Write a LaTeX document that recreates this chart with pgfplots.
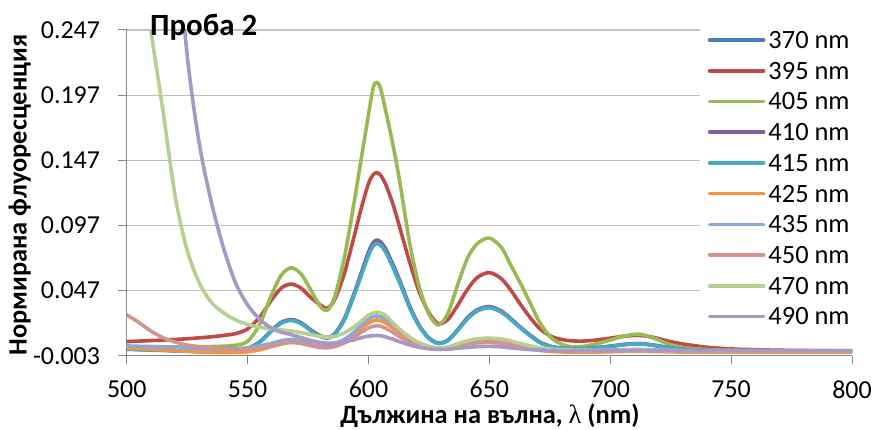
\documentclass[border=0pt]{standalone}
\usepackage{pgfplots}
\usepackage{pgfplotstable}
\pgfplotsset{compat=1.18}
\usepackage{fontspec}
\setmainfont{Carlito}
\newfontfamily\lamfont{Liberation Serif}

\definecolor{axisgray}{HTML}{868686}
\definecolor{gridgray}{HTML}{C0C0C0}
\definecolor{cA}{HTML}{4A7EBB}
\definecolor{cB}{HTML}{BE4B48}
\definecolor{cC}{HTML}{98B954}
\definecolor{cD}{HTML}{7D60A0}
\definecolor{cE}{HTML}{46AAC5}
\definecolor{cF}{HTML}{F69240}
\definecolor{cG}{HTML}{8EA8D6}
\definecolor{cH}{HTML}{D49391}
\definecolor{cI}{HTML}{B7CF8F}
\definecolor{cJ}{HTML}{A898C4}

% normalised emission spectra, one column per excitation wavelength
\pgfplotstableread{
L     s370    s395    s405    s410    s415    s425    s435    s450    s470    s490
500   0.0022  0.0078  0.0040  0.0023  0.0020  0.0030  0.0045  0.0285  0.4100  1.0000
505   0.0018  0.0082  0.0040  0.0019  0.0016  0.0025  0.0042  0.0225  0.3200  0.7800
510   0.0015  0.0086  0.0040  0.0016  0.0013  0.0020  0.0040  0.0160  0.2470  0.6000
515   0.0012  0.0090  0.0038  0.0013  0.0010  0.0015  0.0036  0.0108  0.1850  0.4600
520   0.0009  0.0095  0.0037  0.0010  0.0007  0.0010  0.0032  0.0075  0.1200  0.3350
525   0.0005  0.0100  0.0037  0.0006  0.0004  0.0005  0.0028  0.0052  0.0780  0.2280
530   0.0002  0.0107  0.0038  0.0003  0.0001  0.0000  0.0025  0.0040  0.0530  0.1600
535   0.0002  0.0115  0.0040  0.0003  0.0001  -0.0003 0.0023  0.0030  0.0380  0.1150
540   0.0005  0.0125  0.0043  0.0006  0.0004  -0.0004 0.0022  0.0021  0.0300  0.0800
545   0.0012  0.0140  0.0050  0.0013  0.0011  -0.0003 0.0025  0.0016  0.0245  0.0530
550   0.0025  0.0175  0.0080  0.0026  0.0024  0.0000  0.0030  0.0018  0.0210  0.0360
555   0.0075  0.0265  0.0210  0.0076  0.0073  0.0015  0.0045  0.0028  0.0188  0.0250
560   0.0165  0.0400  0.0440  0.0166  0.0161  0.0040  0.0065  0.0045  0.0175  0.0180
564   0.0225  0.0490  0.0590  0.0226  0.0220  0.0060  0.0085  0.0062  0.0168  0.0150
568   0.0245  0.0520  0.0645  0.0247  0.0240  0.0072  0.0095  0.0072  0.0160  0.0132
572   0.0222  0.0490  0.0600  0.0224  0.0217  0.0065  0.0090  0.0066  0.0148  0.0110
576   0.0168  0.0420  0.0480  0.0170  0.0164  0.0050  0.0072  0.0048  0.0132  0.0088
580   0.0122  0.0360  0.0350  0.0123  0.0119  0.0040  0.0058  0.0033  0.0118  0.0072
583   0.0108  0.0335  0.0320  0.0109  0.0105  0.0038  0.0055  0.0030  0.0112  0.0066
586   0.0135  0.0400  0.0420  0.0136  0.0131  0.0048  0.0065  0.0040  0.0118  0.0066
590   0.0250  0.0600  0.0720  0.0252  0.0243  0.0080  0.0095  0.0068  0.0145  0.0076
594   0.0440  0.0880  0.1140  0.0443  0.0430  0.0130  0.0150  0.0110  0.0190  0.0092
597   0.0600  0.1100  0.1480  0.0604  0.0585  0.0180  0.0205  0.0150  0.0235  0.0108
600   0.0760  0.1290  0.1820  0.0764  0.0740  0.0220  0.0250  0.0182  0.0280  0.0120
602   0.0835  0.1360  0.2030  0.0839  0.0812  0.0238  0.0270  0.0196  0.0298  0.0124
603.5 0.0855  0.1375  0.2070  0.0858  0.0830  0.0245  0.0275  0.0200  0.0305  0.0125
605   0.0840  0.1355  0.2020  0.0843  0.0818  0.0240  0.0270  0.0196  0.0298  0.0123
607   0.0790  0.1290  0.1860  0.0794  0.0770  0.0222  0.0250  0.0182  0.0280  0.0115
610   0.0670  0.1140  0.1600  0.0674  0.0652  0.0185  0.0210  0.0150  0.0225  0.0097
613   0.0540  0.0950  0.1300  0.0543  0.0525  0.0142  0.0165  0.0115  0.0172  0.0077
617   0.0350  0.0690  0.0840  0.0352  0.0340  0.0090  0.0110  0.0075  0.0112  0.0052
621   0.0200  0.0460  0.0500  0.0201  0.0195  0.0052  0.0065  0.0045  0.0070  0.0034
625   0.0105  0.0300  0.0290  0.0106  0.0102  0.0030  0.0038  0.0028  0.0042  0.0023
629   0.0065  0.0215  0.0206  0.0066  0.0063  0.0020  0.0028  0.0020  0.0030  0.0018
633   0.0090  0.0250  0.0300  0.0091  0.0088  0.0025  0.0033  0.0025  0.0038  0.0020
637   0.0170  0.0360  0.0520  0.0171  0.0166  0.0040  0.0050  0.0042  0.0062  0.0027
641   0.0260  0.0480  0.0720  0.0262  0.0253  0.0058  0.0068  0.0060  0.0085  0.0034
645   0.0320  0.0570  0.0830  0.0322  0.0313  0.0068  0.0080  0.0072  0.0100  0.0039
650   0.0345  0.0608  0.0873  0.0347  0.0338  0.0072  0.0085  0.0078  0.0105  0.0042
655   0.0310  0.0560  0.0800  0.0312  0.0303  0.0065  0.0077  0.0070  0.0098  0.0038
659   0.0250  0.0470  0.0660  0.0252  0.0245  0.0050  0.0060  0.0055  0.0082  0.0030
663   0.0185  0.0360  0.0520  0.0186  0.0181  0.0035  0.0042  0.0040  0.0062  0.0023
667   0.0125  0.0260  0.0370  0.0126  0.0122  0.0020  0.0028  0.0028  0.0045  0.0017
671   0.0072  0.0175  0.0220  0.0073  0.0070  0.0010  0.0018  0.0018  0.0030  0.0013
676   0.0038  0.0115  0.0100  0.0039  0.0037  0.0002  0.0012  0.0012  0.0020  0.0010
682   0.0024  0.0088  0.0045  0.0025  0.0023  -0.0002 0.0010  0.0010  0.0015  0.0009
688   0.0022  0.0082  0.0040  0.0023  0.0021  -0.0003 0.0010  0.0009  0.0012  0.0009
694   0.0030  0.0090  0.0060  0.0031  0.0029  -0.0002 0.0011  0.0009  0.0011  0.0009
700   0.0042  0.0105  0.0090  0.0043  0.0041  0.0000  0.0013  0.0010  0.0011  0.0009
706   0.0056  0.0120  0.0122  0.0057  0.0055  0.0003  0.0016  0.0011  0.0012  0.0009
712   0.0062  0.0126  0.0136  0.0063  0.0061  0.0004  0.0018  0.0012  0.0013  0.0009
718   0.0050  0.0110  0.0105  0.0051  0.0049  0.0002  0.0015  0.0010  0.0012  0.0009
724   0.0032  0.0082  0.0060  0.0033  0.0031  0.0000  0.0011  0.0008  0.0010  0.0009
730   0.0019  0.0060  0.0032  0.0020  0.0018  -0.0002 0.0009  0.0007  0.0009  0.0008
740   0.0011  0.0035  0.0018  0.0012  0.0010  -0.0003 0.0008  0.0006  0.0008  0.0008
750   0.0008  0.0022  0.0012  0.0009  0.0007  -0.0003 0.0008  0.0006  0.0008  0.0008
760   0.0006  0.0016  0.0010  0.0007  0.0005  -0.0003 0.0007  0.0006  0.0008  0.0008
770   0.0005  0.0012  0.0008  0.0006  0.0004  -0.0003 0.0007  0.0006  0.0008  0.0008
780   0.0004  0.0010  0.0006  0.0005  0.0003  -0.0003 0.0006  0.0006  0.0008  0.0008
790   0.0003  0.0008  0.0005  0.0004  0.0002  -0.0003 0.0006  0.0006  0.0008  0.0008
800   0.0003  0.0006  0.0004  0.0004  0.0002  -0.0003 0.0006  0.0006  0.0008  0.0008
}\spectra

\begin{document}
\begin{tikzpicture}
\begin{axis}[
  at={(0,0)}, anchor=south west,
  scale only axis, width=725.3bp, height=325.7bp,
  xmin=500, xmax=800, ymin=-0.003, ymax=0.247,
  xtick={500,550,600,650,700,750,800},
  xticklabels={500,550,600,650,700,750,800},
  ytick={-0.003,0.047,0.097,0.147,0.197,0.247},
  yticklabels={-0.003,0.047,0.097,0.147,0.197,0.247},
  axis x line*=bottom, axis y line*=left,
  axis line style={draw=axisgray, line width=1bp, -},
  tick align=outside, major tick length=8.5bp,
  tick style={draw=axisgray, line width=1bp},
  ymajorgrids, major grid style={draw=gridgray, line width=1.2bp},
  /pgf/number format/assume math mode=true,
  tick label style={font=\fontsize{26}{26}\selectfont, inner sep=0pt},
  yticklabel style={anchor=east, xshift=-18bp},
  xticklabel style={anchor=north, yshift=-16bp},
  title={Проба 2},
  every axis title/.style={at={(axis description cs:0.0321,0.9846)},
    anchor=base west, inner sep=0pt, font=\bfseries\fontsize{31}{31}\selectfont},
  xlabel={Дължина на вълна, {\lamfont\mdseries λ} (nm)},
  every axis x label/.style={at={(axis description cs:0.5009,-0.2076)},
    anchor=base, inner sep=0pt, font=\bfseries\fontsize{26.5}{26.5}\selectfont},
  ylabel={Нормирана флуоресценция},
  every axis y label/.style={at={(axis description cs:-0.1379,0.4934)},
    rotate=90, anchor=base, inner sep=0pt, font=\bfseries\fontsize{26.5}{26.5}\selectfont},
  legend style={at={(axis description cs:0.7904,1.0103)}, anchor=north west,
    draw=none, fill=white, inner xsep=7.7bp, inner ysep=5bp,
    row sep=14bp, column sep=3bp,
    font=\fontsize{26.5}{26.5}\selectfont,
    nodes={inner sep=0pt, text height=16.7bp, text depth=0pt},
    cells={anchor=west}},
  legend image code/.code={\draw[#1] (0bp,0bp) -- (54bp,0bp);},
  no markers,
  every axis plot/.append style={line width=3.6bp, smooth, tension=0.5,
    line join=round, line cap=round},
]
\addplot[cA] table[x=L, y=s370] {\spectra};
\addlegendentry{370 nm}
\addplot[cB] table[x=L, y=s395] {\spectra};
\addlegendentry{395 nm}
\addplot[cC] table[x=L, y=s405] {\spectra};
\addlegendentry{405 nm}
\addplot[cD] table[x=L, y=s410] {\spectra};
\addlegendentry{410 nm}
\addplot[cE] table[x=L, y=s415] {\spectra};
\addlegendentry{415 nm}
\addplot[cF] table[x=L, y=s425] {\spectra};
\addlegendentry{425 nm}
\addplot[cG] table[x=L, y=s435] {\spectra};
\addlegendentry{435 nm}
\addplot[cH] table[x=L, y=s450] {\spectra};
\addlegendentry{450 nm}
\addplot[cI] table[x=L, y=s470] {\spectra};
\addlegendentry{470 nm}
\addplot[cJ] table[x=L, y=s490] {\spectra};
\addlegendentry{490 nm}
\end{axis}
\pgfresetboundingbox
\useasboundingbox (-126.7bp,-74.3bp) rectangle (748.3bp,355.7bp);
\end{tikzpicture}
\end{document}
